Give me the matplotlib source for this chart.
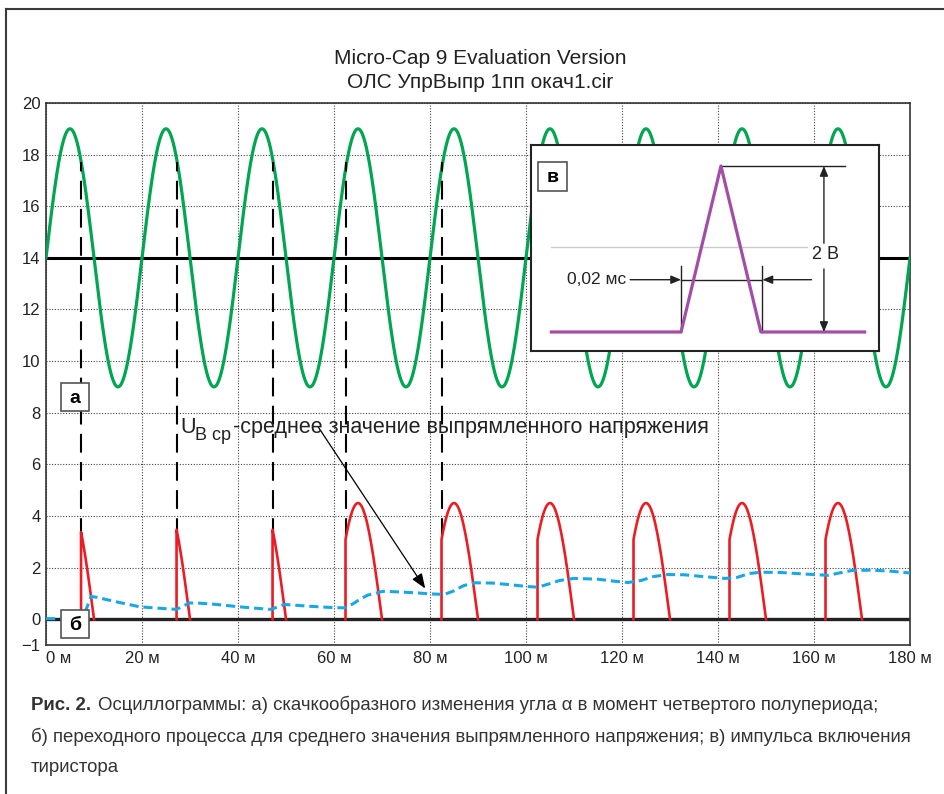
import numpy as np
import matplotlib
matplotlib.use('Agg')
import matplotlib.pyplot as plt
from matplotlib import font_manager
from matplotlib.patches import Rectangle
from matplotlib.lines import Line2D

plt.rcParams['font.family'] = ['Liberation Sans', 'DejaVu Sans']

# 1. Data (time in ms, voltage in V)
sine_mean = 14.0
sine_amp = 5.0
sine_period = 20.0

fire_t = [7.3, 27.2, 47.2, 62.4, 82.4, 102.4, 122.4, 142.4, 162.4]
cut_t = [10.0, 30.0, 50.0, 70.0, 90.0, 110.0, 130.0, 150.0, 170.0]
pulse_amp = 4.5
marker_t = fire_t[:5]
marker_top = 17.7
marker_bottom = 3.2

avg_t = [0, 5.5, 7.1, 8.3, 9.4, 10.5, 14, 19.5, 24, 27.2, 28.5, 29.9, 32, 35, 40.3,
         44, 46.9, 48.3, 49.7, 55, 59.7, 62.2, 64, 65.3, 67, 70.2, 73, 77.3, 80,
         83, 85, 87, 89.3, 93, 97, 100, 102.5, 105, 107, 110, 115, 118, 121.2, 124,
         126.5, 129.5, 133, 137, 141.5, 144, 146.5, 149, 153, 158, 163, 165.5, 168,
         172, 176, 180]
avg_v = [0.02, 0.02, 0.02, 0.35, 0.88, 0.85, 0.7, 0.48, 0.42, 0.38, 0.5, 0.63, 0.62,
         0.58, 0.48, 0.42, 0.38, 0.48, 0.57, 0.5, 0.45, 0.44, 0.6, 0.76, 0.93, 1.08,
         1.06, 1.02, 0.98, 0.96, 1.1, 1.3, 1.41, 1.4, 1.33, 1.27, 1.24, 1.38, 1.5,
         1.58, 1.55, 1.48, 1.42, 1.5, 1.65, 1.73, 1.72, 1.65, 1.58, 1.62, 1.77, 1.82,
         1.81, 1.75, 1.7, 1.8, 1.89, 1.9, 1.86, 1.79]

x_ticks = [0, 20, 40, 60, 80, 100, 120, 140, 160, 180]
x_labels = ['%d м' % v for v in x_ticks]
y_ticks = [-1, 0, 2, 4, 6, 8, 10, 12, 14, 16, 18, 20]
y_labels = ['\u22121'] + [str(v) for v in y_ticks[1:]]

# inset: thyristor gate pulse (time in ms)
gate_t = [-0.0325, 0.0, 0.010, 0.020, 0.046]
gate_v = [0, 0, 2, 0, 0]

W, H = 945, 794


def fx(x):
    return x / W


def fy(y):
    return 1 - y / H


fig = plt.figure(figsize=(W / 100, H / 100), dpi=100)

# outer frame (top and left edges)
fig.add_artist(Line2D([fx(6), fx(6)], [fy(9), 0], color='#3a3a3a', lw=1.5))
fig.add_artist(Line2D([fx(6), 1], [fy(9), fy(9)], color='#3a3a3a', lw=1.5))

# 2. Main axes
ax = fig.add_axes([fx(46), fy(645), (910 - 46) / W, (645 - 103) / H])
ax.set_xlim(0, 180)
ax.set_ylim(-1, 20)
ax.set_xticks(x_ticks, x_labels)
ax.set_yticks(y_ticks, y_labels)
ax.get_xticklabels()[0].set_ha('left')
ax.tick_params(length=0, labelsize=12, pad=4, colors='#222222')
ax.grid(True, linestyle=(0, (1, 1.5)), color='#444444', lw=0.8)
for s in ax.spines.values():
    s.set_color('#333333')
    s.set_linewidth(1.2)

t = np.linspace(0, 180, 3601)
ax.plot(t, sine_mean + sine_amp * np.sin(2 * np.pi * t / sine_period),
        color='#00a651', lw=2.3, zorder=3)

ax.axhline(14, color='black', lw=2.2, zorder=2)
ax.axhline(0, color='#222222', lw=2.4, zorder=2)

for t0, t1 in zip(fire_t, cut_t):
    tt = np.linspace(t0, t1, 60)
    vv = pulse_amp * np.sin(np.pi * (tt - (t1 - 10)) / 10)
    ax.plot(np.r_[t0, tt], np.r_[0, vv], color='#ed1c24', lw=1.9, zorder=4)

for tm in marker_t:
    ax.plot([tm, tm], [marker_bottom, marker_top], color='black', lw=1.5,
            linestyle=(0, (9, 4.5)), zorder=3)

ax.plot(avg_t, avg_v, color='#1aa7e6', lw=2.2, linestyle=(0, (3, 1.6)), zorder=5)

# annotation
fig.text(fx(180), fy(433), 'U', fontsize=15.5, va='baseline', ha='left', color='#222222')
fig.text(fx(195), fy(440), 'В ср', fontsize=13, va='baseline', color='#222222')
fig.text(fx(233), fy(433), '-среднее значение выпрямленного напряжения', fontsize=15.5,
         va='baseline', color='#222222')
ax.annotate('', xy=(79.0, 1.19), xytext=(56.7, 7.45),
            arrowprops=dict(arrowstyle='-|>,head_length=0.9,head_width=0.35',
                            color='black', lw=0.9, shrinkA=0, shrinkB=0), zorder=6)

# label boxes
for (x0, y0, lab) in [(61, 383, 'а'), (61, 610, 'б')]:
    fig.add_artist(Rectangle((fx(x0), fy(y0 + 28)), 28 / W, 28 / H, transform=fig.transFigure,
                             facecolor='white', edgecolor='#555555', lw=1.2, zorder=10))
    fig.text(fx(x0 + 14), fy(y0 + 15), lab, fontsize=14, fontweight='bold', ha='center',
             va='center', zorder=11)

# titles
fig.text(fx(480), fy(58), 'Micro-Cap 9 Evaluation Version', fontsize=15, ha='center',
         va='center', color='#222222')
fig.text(fx(480), fy(82), 'ОЛС УпрВыпр 1пп окач1.cir', fontsize=15, ha='center',
         va='center', color='#222222')

# 3. Inset
ia = fig.add_axes([fx(531), fy(351), (879 - 531) / W, (351 - 145) / H])
ia.set_xlim(-0.0376, 0.0496)
ia.set_ylim(-0.229, 2.253)
ia.set_xticks([])
ia.set_yticks([])
for s in ia.spines.values():
    s.set_color('#222222')
    s.set_linewidth(1.5)
ia.plot([-0.0325, 0.0315], [1.03, 1.03], color='#cccccc', lw=1.0)
ia.plot(gate_t, gate_v, color='#a24ea6', lw=2.3, zorder=3)
ia.plot([0.010, 0.041], [2, 2], color='#222222', lw=1.0)
ia.plot([0.0, 0.0], [0, 0.80], color='#222222', lw=1.0)
ia.plot([0.0204, 0.0204], [0, 0.80], color='#222222', lw=1.0)
ia.plot([0.0, 0.0204], [0.63, 0.63], color='#222222', lw=1.0)
arw = dict(arrowstyle='-|>,head_length=0.6,head_width=0.25', color='#222222', lw=1.0,
           shrinkA=0, shrinkB=0)
ia.annotate('', xy=(0.0, 0.63), xytext=(-0.01275, 0.63), arrowprops=arw)
ia.annotate('', xy=(0.0204, 0.63), xytext=(0.0327, 0.63), arrowprops=arw)
ia.annotate('', xy=(0.0358, 2), xytext=(0.0358, 1.07), arrowprops=arw)
ia.annotate('', xy=(0.0358, 0), xytext=(0.0358, 0.76), arrowprops=arw)
ia.text(0.0362, 0.93, '2 В', fontsize=13, ha='center', va='center', color='#222222')
ia.text(-0.0138, 0.63, '0,02 мс', fontsize=12.5, ha='right', va='center', color='#222222')
fig.add_artist(Rectangle((fx(538), fy(191)), 29 / W, 29 / H, transform=fig.transFigure,
                         facecolor='white', edgecolor='#555555', lw=1.2, zorder=10))
fig.text(fx(552.5), fy(177), 'в', fontsize=14, fontweight='bold', ha='center', va='center',
         zorder=11)

# 4. Caption
names = {f.name for f in font_manager.fontManager.ttflist}
cap_font = 'Liberation Sans Narrow' if 'Liberation Sans Narrow' in names else 'Liberation Sans'
cap_kw = dict(fontsize=13.4, family=[cap_font, 'DejaVu Sans'], va='center', color='#333333')
t1 = fig.text(fx(31), fy(705), 'Рис. 2.', fontweight='bold', **cap_kw)
fig.canvas.draw()
bb = t1.get_window_extent()
fig.text(bb.x1 / W + 7 / W, fy(705),
         'Осциллограммы: а) скачкообразного изменения угла α в момент четвертого полупериода;',
         **cap_kw)
fig.text(fx(31), fy(737),
         'б) переходного процесса для среднего значения выпрямленного напряжения; в) импульса включения',
         **cap_kw)
fig.text(fx(31), fy(767), 'тиристора', **cap_kw)

fig.savefig('out.png', dpi=100)
